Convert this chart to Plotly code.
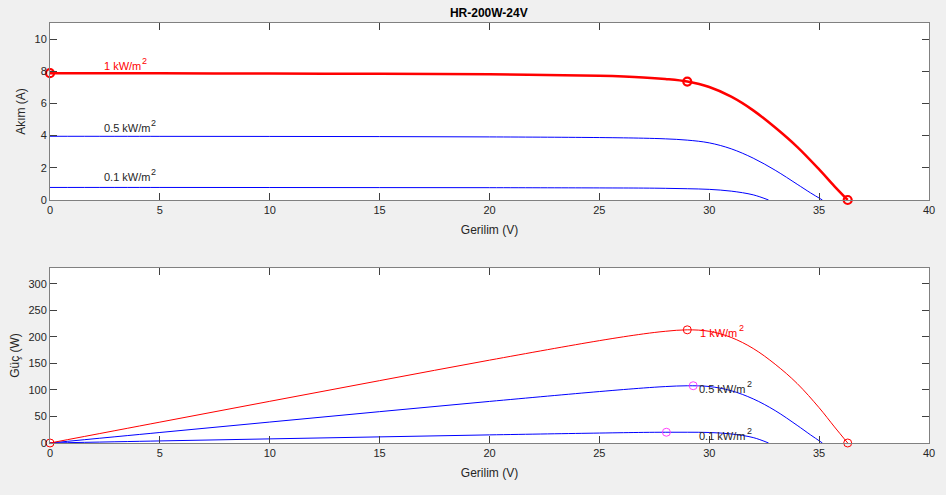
import plotly.graph_objects as go

# ---- data ----
v_1000 = [0, 5, 10, 15, 20, 25, 27, 28, 29, 30, 31, 32, 33, 34, 35, 35.7, 36.3]
i_1000 = [7.88, 7.87, 7.86, 7.84, 7.81, 7.72, 7.62, 7.52, 7.36, 7.02, 6.42, 5.57, 4.5, 3.3, 1.9, 0.85, 0]
p_1000 = [0, 39.35, 78.6, 117.6, 156.2, 193.0, 205.7, 210.6, 213.4, 210.6, 199.0, 178.2, 148.5, 112.2, 66.5, 30.3, 0]

v_500 = [0, 5, 10, 15, 20, 25, 27, 28, 29, 30, 31, 32, 33, 34, 34.6, 35.15]
i_500 = [3.96, 3.955, 3.95, 3.94, 3.92, 3.88, 3.84, 3.80, 3.72, 3.55, 3.18, 2.6, 1.85, 0.98, 0.45, 0]
p_500 = [0, 19.8, 39.5, 59.1, 78.4, 97.0, 103.7, 106.4, 107.9, 106.5, 98.6, 83.2, 61.1, 33.3, 15.6, 0]

v_100 = [0, 5, 10, 15, 20, 25, 27, 28, 29, 30, 31, 32, 32.7]
i_100 = [0.78, 0.78, 0.775, 0.77, 0.765, 0.75, 0.74, 0.725, 0.7, 0.66, 0.55, 0.32, 0]
p_100 = [0, 3.9, 7.75, 11.55, 15.3, 18.75, 19.98, 20.3, 20.3, 19.8, 17.05, 10.24, 0]

# key points (Isc, MPP, Voc) for 1 kW/m2
key_v_1000 = [0, 29, 36.3]
key_i_1000 = [7.88, 7.36, 0]
key_p_1000 = [0, 213.4, 0]
# MPP markers for lower irradiance
mpp_v_low = [29.27, 28.05]
mpp_p_low = [108, 20.3]

labels = ["1 kW/m", "0.5 kW/m", "0.1 kW/m"]
label_sup = "2"
label_pos_iv = [(2.4, 8.35), (2.4, 4.5), (2.4, 1.4)]
label_pos_pv = [(29.55, 207), (29.5, 102), (29.5, 13)]

x_ticks = [0, 5, 10, 15, 20, 25, 30, 35, 40]

RED = "#ff0000"
BLUE = "#0000ff"
MAG = "#ff40ff"
TXT = "#262626"
FONT = "Liberation Sans, Arial, sans-serif"
LABEL_SIZE = 11

# Arial/Liberation Sans advance widths (em units) for measuring label width
ADV = {"0": 0.556, "1": 0.556, "5": 0.556, ".": 0.278, " ": 0.278,
       "k": 0.5, "W": 0.944, "/": 0.278, "m": 0.833}


def text_width(s, size):
    return sum(ADV.get(c, 0.556) for c in s) * size


fig = go.Figure()

# I-V curves (top)
fig.add_trace(go.Scatter(x=v_100, y=i_100, mode="lines", line=dict(color=BLUE, width=1, shape="spline"), xaxis="x", yaxis="y"))
fig.add_trace(go.Scatter(x=v_500, y=i_500, mode="lines", line=dict(color=BLUE, width=1, shape="spline"), xaxis="x", yaxis="y"))
fig.add_trace(go.Scatter(x=v_1000, y=i_1000, mode="lines", line=dict(color=RED, width=2.5, shape="spline"), xaxis="x", yaxis="y"))
fig.add_trace(go.Scatter(x=key_v_1000, y=key_i_1000, mode="markers",
                         marker=dict(symbol="circle-open", size=8, color=RED, line=dict(width=2.2, color=RED)),
                         xaxis="x", yaxis="y", cliponaxis=False))

# P-V curves (bottom)
fig.add_trace(go.Scatter(x=v_100, y=p_100, mode="lines", line=dict(color=BLUE, width=1, shape="spline"), xaxis="x2", yaxis="y2"))
fig.add_trace(go.Scatter(x=v_500, y=p_500, mode="lines", line=dict(color=BLUE, width=1, shape="spline"), xaxis="x2", yaxis="y2"))
fig.add_trace(go.Scatter(x=v_1000, y=p_1000, mode="lines", line=dict(color=RED, width=1, shape="spline"), xaxis="x2", yaxis="y2"))
fig.add_trace(go.Scatter(x=key_v_1000, y=key_p_1000, mode="markers",
                         marker=dict(symbol="circle-open", size=8, color=RED, line=dict(width=1, color=RED)),
                         xaxis="x2", yaxis="y2", cliponaxis=False))
fig.add_trace(go.Scatter(x=mpp_v_low, y=mpp_p_low, mode="markers",
                         marker=dict(symbol="circle-open", size=8, color=MAG, line=dict(width=1, color=MAG)),
                         xaxis="x2", yaxis="y2", cliponaxis=False))

annotations = []
for xr, yr, positions in (("x", "y", label_pos_iv), ("x2", "y2", label_pos_pv)):
    for k, (lab, (lx, ly)) in enumerate(zip(labels, positions)):
        col = RED if k == 0 else TXT
        annotations.append(dict(x=lx, y=ly, xref=xr, yref=yr, text=lab, showarrow=False,
                                xanchor="left", yanchor="middle", borderpad=0,
                                font=dict(size=LABEL_SIZE, color=col, family=FONT)))
        annotations.append(dict(x=lx, y=ly, xref=xr, yref=yr, text=label_sup, showarrow=False,
                                xanchor="left", yanchor="middle", borderpad=0,
                                xshift=text_width(lab, LABEL_SIZE) + 1, yshift=5,
                                font=dict(size=9, color=col, family=FONT)))

axis_common = dict(showline=True, linecolor="#808080", linewidth=1, mirror="ticks",
                   ticks="inside", ticklen=7, tickcolor="#404040", tickwidth=1,
                   showgrid=False, zeroline=False, automargin=False,
                   tickfont=dict(size=11, color=TXT, family=FONT))

fig.update_layout(
    width=946, height=495,
    margin=dict(l=50, r=17, t=23, b=52),
    paper_bgcolor="#f0f0f0", plot_bgcolor="#ffffff",
    showlegend=False,
    font=dict(family=FONT, color=TXT),
    title=dict(text="<b>HR-200W-24V</b>", x=0.5167, xanchor="center", y=0.975, yanchor="middle",
               font=dict(size=12, color="#000000", family=FONT)),
    xaxis=dict(domain=[0, 1], range=[0, 40], tickvals=x_ticks, anchor="y",
               title=dict(text="Gerilim (V)", standoff=10, font=dict(size=12, color=TXT)), **axis_common),
    yaxis=dict(domain=[0.5786, 1], range=[0, 11], tickvals=[0, 2, 4, 6, 8, 10], anchor="x",
               title=dict(text="Akım (A)", standoff=6, font=dict(size=12, color=TXT)), **axis_common),
    xaxis2=dict(domain=[0, 1], range=[0, 40], tickvals=x_ticks, anchor="y2",
                title=dict(text="Gerilim (V)", standoff=10, font=dict(size=12, color=TXT)), **axis_common),
    yaxis2=dict(domain=[0, 0.4167], range=[0, 330], tickvals=[0, 50, 100, 150, 200, 250, 300], anchor="x2",
                title=dict(text="Güç (W)", standoff=6, font=dict(size=12, color=TXT)), **axis_common),
    annotations=annotations,
)

fig.write_html("out.html", config={"displayModeBar": False},
               post_script="document.body.style.margin='0px';")
